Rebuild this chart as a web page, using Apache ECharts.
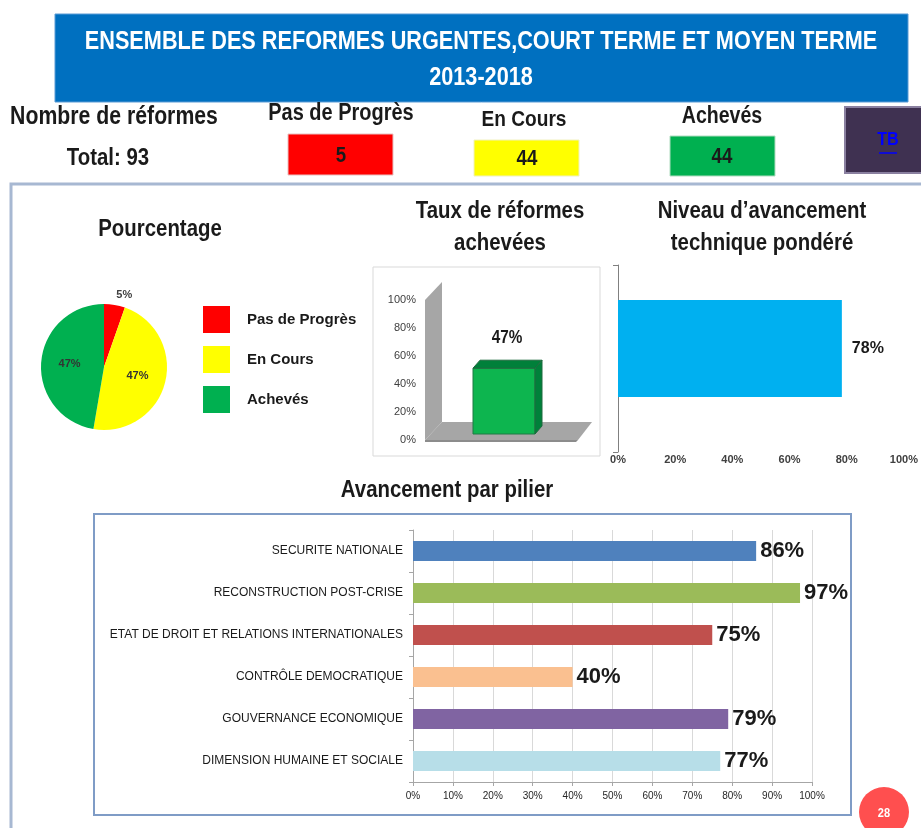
<!DOCTYPE html>
<html>
<head>
<meta charset="utf-8">
<title>Ensemble des réformes 2013-2018</title>
<script src="https://cdn.jsdelivr.net/npm/echarts@6/dist/echarts.min.js"></script>
<style>
  html, body { margin: 0; padding: 0; background: #fff; }
  #main { width: 921px; height: 828px; }
</style>
</head>
<body>
<div id="main"></div>
<script>
// statut des réformes
var statuts = ['Pas de Progrès', 'En Cours', 'Achevés'];
var nombres = [5, 44, 44];
var total = 93;

// taux de réformes achevées
var tauxCat = ['Achevées'];
var tauxVal = [47];

// niveau d'avancement technique pondéré
var niveauCat = ['Niveau'];
var niveauVal = [78];

// avancement par pilier
var piliers = [
    'SECURITE NATIONALE',
    'RECONSTRUCTION POST-CRISE',
    'ETAT DE DROIT ET RELATIONS INTERNATIONALES',
    'CONTRÔLE DEMOCRATIQUE',
    'GOUVERNANCE ECONOMIQUE',
    'DIMENSION HUMAINE ET SOCIALE'
];
var piliersVal = [86, 97, 75, 40, 79, 77];

var F = "'Liberation Sans Narrow', 'Liberation Sans', sans-serif";
var statutColors = ['#FF0000', '#FFFF00', '#00B050'];
var pilierColors = ['#4F81BD', '#9BBB59', '#C0504D', '#FAC090', '#8064A2', '#B7DEE8'];

// texte "condensé" (police étroite simulée par scaleX)
function txt(text, x, y, size, color) {
    return {
        type: 'text', z: 10,
        x: x, y: y, scaleX: 0.85,
        style: {
            text: text, x: 0, y: 0,
            fontSize: size, fontWeight: 'bold', fontFamily: F,
            fill: color || '#1a1a1a',
            align: 'center', textAlign: 'center',
            verticalAlign: 'middle', textVerticalAlign: 'middle'
        }
    };
}

var myChart = echarts.init(document.getElementById('main'));

var option = {
    backgroundColor: '#fff',
    animation: false,
    graphic: [
        // bandeau titre
        { type: 'rect', shape: { x: 55, y: 14, width: 853, height: 88 }, style: { fill: '#0070C0', stroke: '#5B9BD5', lineWidth: 1 } },
        txt('ENSEMBLE DES REFORMES URGENTES,COURT TERME ET MOYEN TERME', 481, 42, 25.5, '#fff'),
        txt('2013-2018', 481, 78, 25.5, '#fff'),
        // compteurs
        txt('Nombre de réformes', 114, 117, 25),
        txt('Total: ' + total, 108, 158, 24),
        txt(statuts[0], 341, 114, 23.5),
        { type: 'rect', shape: { x: 288, y: 134, width: 105, height: 41 }, style: { fill: statutColors[0], stroke: '#E8C0C0', lineWidth: 1 } },
        txt(String(nombres[0]), 341, 156, 22),
        txt(statuts[1], 524, 120, 22.5),
        { type: 'rect', shape: { x: 474, y: 140, width: 105, height: 36 }, style: { fill: statutColors[1], stroke: '#F0F0C0', lineWidth: 1 } },
        txt(String(nombres[1]), 527, 159, 22),
        txt(statuts[2], 722, 117, 23),
        { type: 'rect', shape: { x: 670, y: 136, width: 105, height: 40 }, style: { fill: statutColors[2], stroke: '#B0DCC0', lineWidth: 1 } },
        txt(String(nombres[2]), 722, 157, 22),
        // bouton TB
        { type: 'rect', shape: { x: 845, y: 107, width: 80, height: 66 }, style: { fill: '#3F3151', stroke: '#8A80A0', lineWidth: 2 } },
        txt('TB', 888, 140, 19, '#0000FF'),
        { type: 'line', shape: { x1: 879, y1: 153, x2: 897, y2: 153 }, style: { stroke: '#0000FF', lineWidth: 1.5 } },
        // cadre principal
        { type: 'rect', shape: { x: 11, y: 184, width: 930, height: 700 }, style: { fill: 'none', stroke: '#A7B8D2', lineWidth: 3 } },
        // titres des graphiques
        txt('Pourcentage', 160, 229, 24),
        txt('Taux de réformes', 500, 211, 24),
        txt('achevées', 500, 243, 24),
        txt('Niveau d\u2019avancement', 762, 211, 24),
        txt('technique pondéré', 762, 243, 24),
        { type: 'rect', shape: { x: 373, y: 267, width: 227, height: 189 }, style: { fill: 'none', stroke: '#D9D9D9', lineWidth: 1 } },
        txt('Avancement par pilier', 447, 490, 24),
        { type: 'rect', shape: { x: 94, y: 514, width: 757, height: 301 }, style: { fill: 'none', stroke: '#7F9CC6', lineWidth: 2 } },
        // numéro de page
        { type: 'circle', shape: { cx: 884, cy: 812, r: 25 }, style: { fill: '#FF4F4F' } },
        txt('28', 884, 813, 13, '#fff')
    ],
    legend: {
        data: statuts,
        orient: 'vertical',
        left: 198,
        top: 301,
        icon: 'rect',
        itemWidth: 27,
        itemHeight: 27,
        itemGap: 13,
        textStyle: { fontSize: 15, fontWeight: 'bold', fontFamily: F, color: '#1a1a1a', padding: [0, 0, 0, 12] }
    },
    grid: [
        { left: 428, top: 300, width: 152, height: 140 },
        { left: 618, top: 265, right: 16, height: 187 },
        { left: 413, top: 530, width: 399, height: 252 },
        { left: 618, top: 255, right: 16, height: 187 }
    ],
    xAxis: [
        { gridIndex: 0, type: 'category', data: tauxCat, show: false },
        {
            gridIndex: 1, type: 'value', min: 0, max: 100, interval: 20,
            axisLine: { show: false }, axisTick: { show: false }, splitLine: { show: false },
            axisLabel: { formatter: '{value}%', fontSize: 11, fontWeight: 'bold', fontFamily: F, color: '#404040', margin: 2 }
        },
        {
            gridIndex: 2, type: 'value', min: 0, max: 100, interval: 10,
            axisLine: { show: true, lineStyle: { color: '#A6A6A6' } },
            axisTick: { show: true, length: 4, lineStyle: { color: '#A6A6A6' } },
            splitLine: { show: true, lineStyle: { color: '#D9D9D9' } },
            axisLabel: { formatter: '{value}%', fontSize: 10, fontFamily: F, color: '#262626', margin: 9 }
        },
        { gridIndex: 3, type: 'value', min: 0, max: 100, show: false }
    ],
    yAxis: [
        {
            gridIndex: 0, type: 'value', min: 0, max: 100, interval: 20,
            axisLine: { show: false }, axisTick: { show: false }, splitLine: { show: false },
            axisLabel: { formatter: '{value}%', fontSize: 11, fontFamily: F, color: '#404040', margin: 12 }
        },
        {
            gridIndex: 1, type: 'category', data: niveauCat,
            axisLine: { show: true, lineStyle: { color: '#808080' } },
            axisTick: { show: true, length: 5, lineStyle: { color: '#808080' } },
            axisLabel: { show: false }
        },
        {
            gridIndex: 2, type: 'category', data: piliers, inverse: true,
            axisLine: { show: true, lineStyle: { color: '#A6A6A6' } },
            axisTick: { show: true, length: 4, lineStyle: { color: '#A6A6A6' } },
            axisLabel: { fontSize: 12, fontFamily: F, color: '#1a1a1a', margin: 10 }
        },
        { gridIndex: 3, type: 'category', data: niveauCat, show: false }
    ],
    series: [
        {
            type: 'pie',
            center: [104, 367],
            radius: 63,
            startAngle: 90,
            label: {
                position: 'inside', fontSize: 11, fontWeight: 'bold', fontFamily: F, color: '#333',
                formatter: function (p) { return Math.round(p.value / total * 100) + '%'; }
            },
            labelLine: { show: false },
            data: statuts.map(function (s, i) {
                var d = { name: s, value: nombres[i], itemStyle: { color: statutColors[i] } };
                if (i === 0) {
                    d.label = { position: 'outside', distanceToLabelLine: 0, color: '#404040' };
                    d.labelLine = { show: false, length: 10, length2: 0 };
                }
                return d;
            })
        },
        {
            // barre 3D des réformes achevées
            type: 'custom',
            xAxisIndex: 0, yAxisIndex: 0,
            data: tauxVal.map(function (v, i) { return [i, v]; }),
            renderItem: function (params, api) {
                var cs = params.coordSys;
                var y0 = api.coord([0, 0])[1];
                var y100 = api.coord([0, 100])[1];
                var top = api.coord([api.value(0), api.value(1)]);
                var gx = cs.x, gw = cs.width;
                var l = top[0] - 31, r = top[0] + 31, ty = top[1] - 6, by = y0 - 6;
                return {
                    type: 'group',
                    children: [
                        { type: 'polygon', shape: { points: [[gx - 3, y0], [gx - 3, y100], [gx + 14, y100 - 18], [gx + 14, y0 - 18]] }, style: { fill: '#A6A6A6' } },
                        { type: 'polygon', shape: { points: [[gx - 3, y0], [gx + gw - 2, y0], [gx + gw + 12, y0 - 18], [gx + 14, y0 - 18]] }, style: { fill: '#A6A6A6' } },
                        { type: 'polygon', shape: { points: [[gx - 3, y0], [gx + gw - 2, y0], [gx + gw - 4, y0 + 2], [gx - 3, y0 + 2]] }, style: { fill: '#8C8C8C' } },
                        { type: 'rect', shape: { x: l, y: ty, width: r - l, height: by - ty }, style: { fill: '#0DB54F', stroke: '#1F7A45', lineWidth: 1 } },
                        { type: 'polygon', shape: { points: [[l, ty], [r, ty], [r + 7, ty - 8], [l + 7, ty - 8]] }, style: { fill: '#00803A', stroke: '#1F6A3F', lineWidth: 1 } },
                        { type: 'polygon', shape: { points: [[r, ty], [r + 7, ty - 8], [r + 7, by - 8], [r, by]] }, style: { fill: '#00803A', stroke: '#1F6A3F', lineWidth: 1 } },
                        { type: 'text', x: top[0] + 3, y: ty - 30, scaleX: 0.85, style: { text: api.value(1) + '%', x: 0, y: 0, fontSize: 18, fontWeight: 'bold', fontFamily: F, fill: '#1a1a1a', align: 'center', textAlign: 'center', verticalAlign: 'middle', textVerticalAlign: 'middle' } }
                    ]
                };
            }
        },
        {
            type: 'bar',
            xAxisIndex: 3, yAxisIndex: 3,
            data: niveauVal,
            barWidth: 97,
            itemStyle: { color: '#00B0F0' },
            label: { show: true, position: 'right', distance: 10, formatter: '{c}%', fontSize: 16, fontWeight: 'bold', fontFamily: F, color: '#1a1a1a' }
        },
        {
            type: 'bar',
            xAxisIndex: 2, yAxisIndex: 2,
            barWidth: 20,
            data: piliersVal.map(function (v, i) {
                return { value: v, itemStyle: { color: pilierColors[i] } };
            }),
            label: { show: true, position: 'right', distance: 4, formatter: '{c}%', fontSize: 22, fontWeight: 'bold', fontFamily: F, color: '#1a1a1a' }
        }
    ]
};

myChart.setOption(option);
</script>
</body>
</html>
